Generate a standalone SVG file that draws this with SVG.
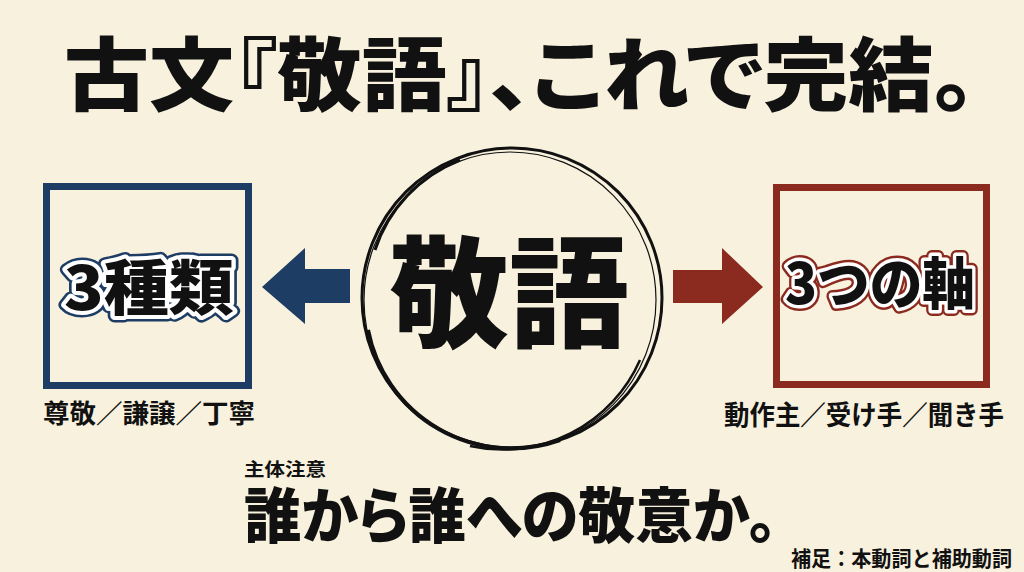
<svg xmlns="http://www.w3.org/2000/svg" width="1024" height="572" viewBox="0 0 1024 572">
<style>
.jp{font-family:"Noto Sans CJK JP","Noto Sans CJK SC",sans-serif;font-weight:900;fill:#111;}
.sub{font-family:"Noto Sans CJK JP","Noto Sans CJK SC",sans-serif;font-weight:700;fill:#111;}
.palt{font-feature-settings:"palt" 1;}
.ring{fill:none;stroke:#111;}
</style>
<rect width="1024" height="572" fill="#f8f1de"/>
<g id="title">
<text class="jp palt" x="64" y="104" font-size="80" textLength="912" lengthAdjust="spacingAndGlyphs">古文『敬語』、これで完結。</text>
</g>
<g id="connectors">
<polygon points="262,287 305,248 305,269 350,269 350,303 305,303 305,324" fill="#1e3d64"/>
<polygon points="673,270 722,270 722,248 763,287 722,324 722,303 673,303" fill="#8b2b1f"/>
</g>
<g id="node-left">
<rect x="46.5" y="186.5" width="202" height="199" fill="none" stroke="#1e3d64" stroke-width="7"/>
<text class="jp" x="149" y="310" font-size="60" text-anchor="middle" textLength="170" lengthAdjust="spacingAndGlyphs" fill="none" stroke="#1e3d64" stroke-width="13" stroke-linejoin="round">3種類</text>
<text class="jp" x="149" y="310" font-size="60" text-anchor="middle" textLength="170" lengthAdjust="spacingAndGlyphs" fill="none" stroke="#ffffff" stroke-width="8" stroke-linejoin="round">3種類</text>
<text class="jp" x="149" y="310" font-size="60" text-anchor="middle" textLength="170" lengthAdjust="spacingAndGlyphs" fill="#1e3d64">3種類</text>
<text class="sub" x="43" y="423" font-size="26" textLength="212" lengthAdjust="spacingAndGlyphs">尊敬／謙譲／丁寧</text>
</g>
<g id="node-center">
<circle class="ring" cx="512" cy="298" r="150" stroke-width="3"/>
<ellipse class="ring" cx="510" cy="300" rx="146" ry="148" stroke-width="1.2"/>
<path class="ring" d="M368 330 A146 146 0 0 0 560 440" stroke-width="4"/>
<path class="ring" d="M640 360 A150 150 0 0 1 470 446" stroke-width="2.5"/>
<path class="ring" d="M375 250 A145 145 0 0 1 460 160" stroke-width="3"/>
<text class="jp" x="509" y="338" font-size="120" text-anchor="middle">敬語</text>
</g>
<g id="node-right">
<rect x="776.5" y="187.5" width="210" height="197" fill="none" stroke="#8b2b1f" stroke-width="7"/>
<text class="jp" x="880" y="304" font-size="56" text-anchor="middle" textLength="190" lengthAdjust="spacingAndGlyphs" fill="none" stroke="#8b2b1f" stroke-width="12" stroke-linejoin="round">3つの軸</text>
<text class="jp" x="880" y="304" font-size="56" text-anchor="middle" textLength="190" lengthAdjust="spacingAndGlyphs" fill="none" stroke="#ffffff" stroke-width="7" stroke-linejoin="round">3つの軸</text>
<text class="jp" x="880" y="304" font-size="56" text-anchor="middle" textLength="190" lengthAdjust="spacingAndGlyphs" fill="#8b2b1f">3つの軸</text>
<text class="sub" x="724" y="425" font-size="27" textLength="280" lengthAdjust="spacingAndGlyphs">動作主／受け手／聞き手</text>
</g>
<g id="bottom">
<text class="sub" x="244" y="476" font-size="18" textLength="82" lengthAdjust="spacingAndGlyphs">主体注意</text>
<text class="jp palt" x="244" y="538" font-size="60" textLength="533" lengthAdjust="spacingAndGlyphs">誰から誰への敬意か。</text>
<text class="sub" x="791" y="566" font-size="21" textLength="221" lengthAdjust="spacingAndGlyphs">補足：本動詞と補助動詞</text>
</g>
</svg>
